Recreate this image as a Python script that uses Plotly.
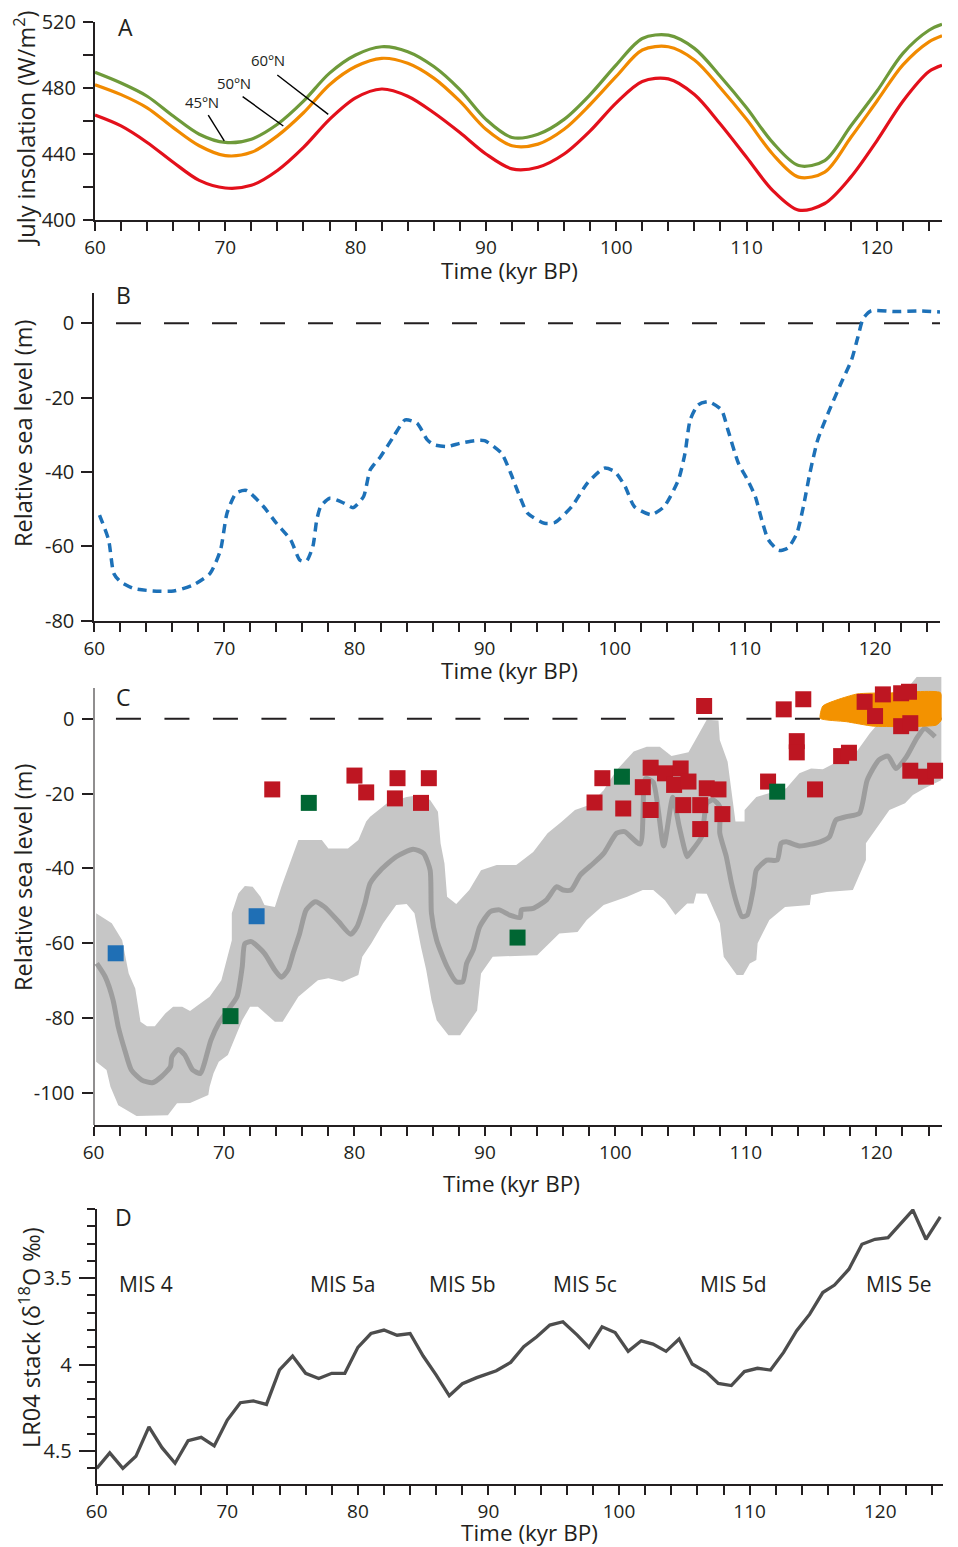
import plotly.graph_objects as go

W, H = 958, 1547
FONT = "Open Sans"
INK = "#231f20"

# ---------------- Panel A: July insolation ----------------
T_INS = [60, 62, 64, 66, 68, 70, 72, 74, 76, 78, 80, 82, 84, 86, 88, 90, 92, 94, 96, 98,
         100, 102, 104, 106, 108, 110, 112, 114, 116, 118, 120, 122, 124, 125]
INS_45N = [489.5, 483, 475, 463, 452, 447, 449, 458, 472, 489, 500, 505, 502, 493, 479, 461, 450, 452, 461, 476,
           494, 510, 512, 504, 487, 468, 447, 433, 436, 457, 478, 501, 515, 518.6]
INS_50N = [482, 476, 468, 456, 445, 439, 441, 451, 465, 482, 493, 498, 495, 486, 472, 455, 445, 446, 455, 470,
           487, 503, 505, 497, 480, 461, 440, 426, 429, 450, 472, 494, 508, 511.7]
INS_60N = [463.6, 457, 447, 435, 424, 419.4, 421, 430, 444, 461, 474, 479.4, 475, 465, 453, 440, 431, 432, 440, 454,
           471, 484, 485.5, 476, 458, 438, 418, 406, 410, 426, 448, 472, 490, 493.8]
INS_LABELS = ["45ºN", "50ºN", "60ºN"]

# ---------------- Panel B: relative sea level (model) ----------------
T_RSL_B = [60.4, 61.1, 61.5, 62.0, 63.0, 64.5, 66.1, 67.6, 68.9, 69.7, 70.2, 70.9, 71.7, 73.0, 74.0, 75.1, 75.8,
           76.3, 76.8, 77.1, 77.4, 78.1, 79.2, 79.9, 80.7, 81.2, 82.0, 83.0, 83.9, 84.8, 85.6, 86.1, 87.1, 88.1,
           89.2, 90.0, 91.3, 92.0, 92.7, 93.3, 94.6, 95.4, 96.7, 97.9, 99.2, 100.0, 100.8, 101.5, 102.8, 103.8,
           104.9, 105.4, 105.8, 106.4, 107.2, 108.2, 108.7, 109.5, 110.2, 110.8, 111.3, 111.8, 112.6, 113.3,
           114.0, 114.5, 115.0, 115.6, 116.4, 117.4, 118.2, 118.7, 119.1, 119.7, 121.5, 123.5, 125.0]
RSL_B = [-51.6, -58.3, -67.3, -69.5, -71.3, -72.0, -72.0, -70.4, -67.3, -61.0, -51.1, -45.7, -45.0, -49.3, -53.8,
         -58.3, -63.7, -64.0, -60.0, -52.9, -49.3, -47.1, -48.4, -49.6, -46.6, -39.5, -35.9, -30.5, -26.0, -26.9,
         -31.4, -32.7, -33.2, -32.3, -31.6, -31.6, -35.0, -40.3, -46.6, -51.1, -53.8, -53.6, -49.3, -43.0, -39.0,
         -39.9, -43.9, -49.3, -51.5, -49.3, -42.1, -35.0, -26.0, -22.0, -21.1, -23.3, -28.7, -37.6, -42.1, -46.6,
         -52.9, -58.2, -61.1, -60.5, -56.5, -49.3, -40.3, -31.4, -24.2, -16.1, -9.9, -3.6, 1.3, 3.3, 3.1, 3.3, 3.0]

# ---------------- Panel C: sea-level reconstruction ----------------
T_RSL_C = [60.25, 60.9, 61.5, 61.9, 62.4, 62.9, 63.7, 64.5, 65.2, 65.9, 66.0, 66.5, 67.0, 67.6, 68.2, 68.5, 69.0,
           69.6, 70.3, 71.0, 71.4, 71.6, 72.1, 73.1, 73.9, 74.4, 74.9, 75.3, 75.8, 76.3, 77.0, 77.7, 78.8, 79.7,
           80.2, 80.8, 81.2, 82.0, 83.2, 84.5, 85.3, 85.8, 85.9, 86.3, 87.1, 87.8, 88.3, 88.6, 89.1, 89.6, 90.4,
           91.1, 91.9, 92.7, 92.8, 93.7, 94.7, 95.5, 96.0, 96.6, 97.3, 98.3, 99.1, 100.1, 100.7, 101.9, 102.3,
           102.9, 103.7, 104.4, 104.9, 105.5, 105.7, 106.6, 107.0, 107.5, 108.0, 108.0, 108.5, 108.9, 109.3,
           109.7, 110.1, 110.6, 110.8, 111.6, 112.4, 112.7, 113.1, 114.1, 115.7, 116.4, 116.9, 117.7, 118.7,
           119.3, 120.2, 120.9, 121.5, 122.3, 123.1, 123.7, 124.5]
RSL_C = [-65.4, -69, -75.2, -82.4, -88.6, -93.9, -96.6, -97.3, -95.7, -93, -90.4, -88.4, -89.9, -93.9, -94.8,
         -92.1, -85.9, -81.4, -77.9, -74.3, -66.3, -60.1, -59.6, -62.7, -67.2, -69.1, -67.2, -62.7, -57.4, -51.1,
         -48.9, -50.3, -54.3, -57.6, -55.6, -49.4, -44, -40.5, -36.9, -34.9, -36, -40.5, -52, -59.2, -66.3, -70.3,
         -70.3, -65.4, -61.8, -55.6, -51.6, -51.1, -52.5, -53.1, -51.1, -50.7, -48.5, -44.9, -45.8, -45.8, -41.8,
         -38.7, -36, -30.6, -30.2, -33.5, -16, -17, -34, -21, -29, -36.9, -36, -31.6, -22.6, -21.7, -23.5, -30.6,
         -36.9, -44, -49.4, -52.9, -52.5, -44.9, -40.5, -37.8, -37.8, -33.3, -32.9, -34, -32.9, -31.6, -27.1,
         -26.2, -25.3, -16.4, -11, -10, -13.3, -10.2, -5.2, -2.6, -4.8]

# uncertainty envelope: upper edge (left -> right), lower edge (right -> left)
T_ENV_UP = [60.2, 61.4, 62.2, 62.7, 63.2, 63.6, 64.1, 64.7, 65.5, 66.1, 66.8, 67.4, 68.0, 68.9, 69.8, 70.6, 70.6,
            71.1, 71.6, 72.2, 72.8, 73.1, 73.9, 74.4, 75.7, 77.5, 78.0, 79.5, 80.3, 80.9, 81.2, 82.5, 84.0, 85.0,
            85.8, 86.4, 86.6, 86.9, 87.1, 87.8, 88.8, 89.7, 90.9, 92.4, 93.7, 94.8, 95.9, 96.9, 98.0, 99.1, 100.1,
            101.4, 102.4, 103.4, 104.3, 105.6, 106.4, 107.0, 107.9, 108.0, 108.6, 109.2, 109.9, 109.9, 110.8,
            113.1, 114.1, 115.0, 115.9, 118.5, 119.5, 120.8, 123.1, 125.0]
ENV_UP = [-52, -54.7, -59.2, -68.1, -72.1, -81, -82.2, -82.2, -78.8, -77, -77, -78.1, -76.6, -74.3, -69.9, -59.2,
          -52, -46.7, -44.7, -44.9, -47.6, -49.8, -50.3, -44.9, -32.4, -32.4, -34.7, -34.7, -32.4, -27.5, -26.2,
          -22.6, -20.9, -20.4, -21.7, -24.9, -33.3, -38.7, -47.6, -49.5, -45.8, -40.5, -39.1, -39.1, -35.6, -30.6,
          -27.5, -24.4, -23.1, -19.1, -13.7, -8.8, -7.5, -7.5, -10, -9, -4, -0.3, -0.5, -5.7, -11.5, -27.5, -27.5,
          -24.4, -20.9, -18.6, -14.6, -13.3, -13.5, -8.8, -3.9, 1.4, 11.2, 11.2]
T_ENV_LO = [125.0, 123.7, 122.8, 122.2, 121.0, 120.2, 119.2, 119.2, 118.2, 116.2, 115.0, 114.9, 113.0, 111.8,
            110.9, 110.8, 110.3, 109.8, 109.3, 108.3, 108.0, 107.0, 106.2, 106.0, 105.5, 104.6, 103.8, 102.9,
            102.1, 100.9, 99.1, 97.8, 97.1, 95.7, 94.0, 90.6, 89.7, 89.4, 88.1, 87.2, 86.3, 85.9, 85.5, 85.1,
            84.6, 84.0, 83.2, 82.2, 81.3, 80.6, 80.3, 79.1, 78.0, 77.2, 75.7, 74.5, 73.9, 72.6, 72.0, 71.4, 70.3,
            69.6, 69.2, 68.9, 68.8, 67.4, 66.4, 65.7, 63.3, 61.9, 61.3, 61.0, 60.2]
ENV_LO = [-16.4, -18.6, -20.4, -22.6, -24.4, -28.4, -33.3, -37.8, -45.8, -46.3, -47.1, -49.8, -50.3, -53.8, -60,
          -64.5, -65.4, -68.5, -68.5, -63.6, -54.7, -46.8, -46.7, -49.4, -49.4, -52.5, -48.5, -45.8, -45.8, -47.6,
          -49.8, -53.8, -57, -57.4, -63.2, -63.6, -68.1, -78, -84.6, -84.6, -80.6, -75.2, -67.2, -61, -52, -49.5,
          -49.8, -54.7, -60, -63.6, -68.5, -70.3, -69.4, -69.9, -74.3, -81, -81, -77, -77, -80.6, -89.9, -91.7,
          -94.8, -98.4, -100.6, -102.7, -102.8, -106, -106.2, -103.3, -98.4, -93.9, -91.7]

# orange field (last interglacial highstand)
T_HIGH = [115.7, 115.9, 118.5, 121.0, 124.9, 125.1, 125.0, 124.6, 119.8, 117.7, 115.7]
RSL_HIGH = [0.1, 3.4, 6.6, 6.9, 7.0, 4.1, -0.3, -1.7, -2.0, -0.8, 0.1]

# data points
T_RED = [73.7, 80.0, 80.9, 83.1, 83.3, 85.1, 85.7, 98.4, 99.0, 100.6, 102.1, 102.7, 102.7, 103.8, 104.5, 105.0,
         105.6, 105.2, 106.5, 106.5, 107.0, 107.9, 108.2, 106.8, 111.7, 112.9, 114.4, 113.9, 113.9, 115.3, 117.3,
         117.9, 119.1, 119.9, 120.5, 121.9, 122.5, 121.9, 122.6, 122.6, 123.8, 124.5]
RSL_RED = [-18.9, -15.2, -19.7, -21.3, -15.9, -22.5, -15.9, -22.4, -15.9, -24.0, -18.3, -13.1, -24.4, -14.6, -17.7,
           -13.3, -16.8, -23.1, -23.1, -29.5, -18.6, -18.9, -25.5, 3.4, -16.8, 2.5, 5.2, -6.0, -9.0, -18.9, -10.0,
           -9.1, 4.5, 0.7, 6.5, 6.8, 7.2, -2.0, -1.2, -13.9, -15.5, -13.9]
T_GREEN = [70.5, 76.5, 92.5, 100.5, 112.4]
RSL_GREEN = [-79.5, -22.5, -58.5, -15.5, -19.5]
T_BLUE = [61.7, 72.5]
RSL_BLUE = [-62.7, -52.8]

# ---------------- Panel D: LR04 benthic stack ----------------
T_LR04 = [60, 61, 62, 63, 64, 65, 66, 67, 68, 69, 70, 71, 72, 73, 74, 75, 76, 77, 78, 79, 80, 81, 82, 83, 84, 85,
          86, 87, 88, 89.1, 90.6, 91.7, 92.7, 93.7, 94.7, 95.7, 96.8, 97.7, 98.7, 99.7, 100.7, 101.7, 102.6, 103.6,
          104.6, 105.6, 106.7, 107.6, 108.6, 109.6, 110.6, 111.6, 112.6, 113.6, 114.6, 115.6, 116.5, 117.6, 118.6,
          119.6, 120.6, 121.5, 122.5, 123.5, 124.6]
D18O = [4.60, 4.51, 4.60, 4.53, 4.36, 4.48, 4.57, 4.44, 4.42, 4.47, 4.32, 4.22, 4.21, 4.23, 4.03, 3.95, 4.05, 4.08,
        4.05, 4.05, 3.90, 3.82, 3.80, 3.83, 3.82, 3.95, 4.06, 4.18, 4.11, 4.075, 4.035, 3.987, 3.896, 3.839, 3.771,
        3.752, 3.829, 3.90, 3.781, 3.814, 3.923, 3.862, 3.881, 3.923, 3.852, 3.996, 4.044, 4.108, 4.121, 4.04,
        4.021, 4.031, 3.929, 3.804, 3.708, 3.583, 3.54, 3.448, 3.304, 3.275, 3.266, 3.189, 3.106, 3.275, 3.145]
MIS_LABELS = ["MIS 4", "MIS 5a", "MIS 5b", "MIS 5c", "MIS 5d", "MIS 5e"]
T_MIS = [63.8, 78.8, 88.0, 97.4, 108.8, 121.4]

# ---------------- ticks ----------------
X_TICKS = [60, 70, 80, 90, 100, 110, 120]
X_TICK_TEXT = ["60", "70", "80", "90", "100", "110", "120"]
X_MINOR = [62, 64, 66, 68, 72, 74, 76, 78, 82, 84, 86, 88, 92, 94, 96, 98, 102, 104, 106, 108, 112, 114, 116, 118,
           122, 124]
YA_TICKS = [400, 440, 480, 520]
YA_MINOR = [420, 460, 500]
YB_TICKS = [0, -20, -40, -60, -80]
YB_TEXT = ["0", "-20", "-40", "-60", "-80"]
YC_TICKS = [0, -20, -40, -60, -80, -100]
YC_TEXT = ["0", "-20", "-40", "-60", "-80", "-100"]
YD_TICKS = [3.5, 4.0, 4.5]
YD_TEXT = ["3.5", "4", "4.5"]
YD_MINOR = [3.1, 3.2, 3.3, 3.4, 3.6, 3.7, 3.8, 3.9, 4.1, 4.2, 4.3, 4.4, 4.6]

X_TITLE = "Time (kyr BP)"
Y_TITLES = ["July insolation (W/m<sup>2</sup>)", "Relative sea level (m)", "Relative sea level (m)",
            "LR04 stack (δ<sup>18</sup>O ‰)"]
PANEL_LETTERS = ["A", "B", "C", "D"]

# ---------------- figure ----------------
fig = go.Figure()

# A
for ys, col in [(INS_60N, "#e3101b"), (INS_50N, "#f18a00"), (INS_45N, "#6e9a3a")]:
    fig.add_trace(go.Scatter(x=T_INS, y=ys, mode="lines", line=dict(color=col, width=3.2, shape="spline",
                                                                     smoothing=0.9),
                             xaxis="x", yaxis="y", hoverinfo="skip"))

# B
fig.add_trace(go.Scatter(x=[61.67, 125], y=[0, 0], mode="lines",
                         line=dict(color=INK, width=2, dash="25px,23px"), xaxis="x2", yaxis="y2"))
fig.add_trace(go.Scatter(x=T_RSL_B, y=RSL_B, mode="lines",
                         line=dict(color="#1d71b8", width=3.5, dash="9px,6px", shape="spline", smoothing=0.6),
                         xaxis="x2", yaxis="y2"))

# C
fig.add_trace(go.Scatter(x=T_ENV_UP + T_ENV_LO, y=ENV_UP + ENV_LO, mode="lines", fill="toself",
                         fillcolor="#c6c6c6", line=dict(width=0, color="#c6c6c6"), xaxis="x3", yaxis="y3"))
fig.add_trace(go.Scatter(x=T_RSL_C, y=RSL_C, mode="lines",
                         line=dict(color="#9d9d9d", width=5, shape="spline", smoothing=0.6),
                         xaxis="x3", yaxis="y3"))
fig.add_trace(go.Scatter(x=[61.72, 125], y=[0, 0], mode="lines",
                         line=dict(color=INK, width=2, dash="25px,23.5px"), xaxis="x3", yaxis="y3"))
fig.add_trace(go.Scatter(x=T_HIGH, y=RSL_HIGH, mode="lines", fill="toself", fillcolor="#f39200",
                         line=dict(width=1, color="#f39200", shape="spline", smoothing=0.5),
                         xaxis="x3", yaxis="y3"))
for xs, ys, col in [(T_RED, RSL_RED, "#be1622"), (T_GREEN, RSL_GREEN, "#006633"), (T_BLUE, RSL_BLUE, "#1f6fb5")]:
    fig.add_trace(go.Scatter(x=xs, y=ys, mode="markers", cliponaxis=False,
                             marker=dict(symbol="square", size=16, color=col, line=dict(width=0)),
                             xaxis="x3", yaxis="y3"))

# D
fig.add_trace(go.Scatter(x=T_LR04, y=D18O, mode="lines", line=dict(color="#4d4d4d", width=3.3),
                         xaxis="x4", yaxis="y4"))


def px_dom(a, b, total):
    return [a / total, b / total]


def ydom(top, bottom):
    return [1 - bottom / H, 1 - top / H]


tickfont = dict(family=FONT, size=20, color=INK)
xtickfont = dict(family=FONT, size=19, color=INK)


def xaxis(d0, d1, rng, anchor):
    return dict(domain=px_dom(d0, d1, W), range=rng, anchor=anchor, showline=True, linecolor=INK, linewidth=2,
                ticks="outside", ticklen=9, tickwidth=1.6, tickcolor=INK, tickvals=X_TICKS,
                ticktext=X_TICK_TEXT, tickfont=xtickfont, showgrid=False, zeroline=False, fixedrange=True,
                minor=dict(tickvals=X_MINOR, ticks="outside", ticklen=9, tickwidth=1.6, tickcolor=INK,
                           showgrid=False))


def yaxis(top, bottom, rng, anchor, tv, tt, minor=None, ticklen=10, showline=True):
    d = dict(domain=ydom(top, bottom), range=rng, anchor=anchor, showline=showline, linecolor=INK, linewidth=2,
             ticks="outside", ticklen=ticklen, tickwidth=1.6, tickcolor=INK, tickvals=tv, ticktext=tt,
             tickfont=tickfont, showgrid=False, zeroline=False, fixedrange=True, ticklabelstandoff=3)
    if minor is not None:
        d["minor"] = minor
    return d


layout = dict(
    width=W, height=H, margin=dict(l=0, r=0, t=0, b=0), paper_bgcolor="white",
    plot_bgcolor="rgba(0,0,0,0)", showlegend=False, template="none",
    xaxis=xaxis(95, 942, [60, 125], "y"),
    yaxis=yaxis(22, 220, [400, 520], "x", YA_TICKS, [str(v) for v in YA_TICKS],
                minor=dict(tickvals=YA_MINOR, ticks="outside", ticklen=10, tickwidth=1.6, tickcolor=INK,
                           showgrid=False)),
    xaxis2=xaxis(94.3, 940, [60, 125], "y2"),
    yaxis2=yaxis(293, 620.7, [-80, 8.1], "x2", YB_TICKS, YB_TEXT, ticklen=11),
    xaxis3=xaxis(93.5, 941.6, [60, 125], "y3"),
    yaxis3=yaxis(676.8, 1125, [-108.6, 11.2], "x3", YC_TICKS, YC_TEXT, ticklen=11, showline=False),
    xaxis4=xaxis(96.7, 943.3, [60, 124.83], "y4"),
    yaxis4=yaxis(1209, 1484, [4.69, 3.1], "x4", YD_TICKS, YD_TEXT, ticklen=16,
                 minor=dict(tickvals=YD_MINOR, ticks="outside", ticklen=8, tickwidth=1.6, tickcolor=INK,
                            showgrid=False)),
)
fig.update_layout(**layout)

# y-axis line of panel C (stops at the top tick region like the original)
fig.add_shape(type="line", xref="x3", yref="y3", x0=60, x1=60, y0=-108.6, y1=8.2,
              line=dict(color=INK, width=2))

# leader lines for latitude labels
leaders = [((68.69, 463.6), (69.92, 448.0)), ((71.33, 474.8), (74.45, 457.0)), ((73.99, 487.9), (77.9, 464.0))]
for (x0, y0), (x1, y1) in leaders:
    fig.add_shape(type="line", xref="x", yref="y", x0=x0, y0=y0, x1=x1, y1=y1,
                  line=dict(color="black", width=1.4))

ann = []


def paper_text(text, px, py, size, angle=0, xanchor="center"):
    ann.append(dict(text=text, x=px / W, y=1 - py / H, xref="paper", yref="paper", showarrow=False,
                    xanchor=xanchor, yanchor="middle", textangle=angle,
                    font=dict(family=FONT, size=size, color=INK)))


# latitude labels
for lab, (px, py) in zip(INS_LABELS, [(201.7, 101.7), (234, 82.7), (268.3, 60)]):
    paper_text(lab, px, py, 15)

# axis titles
for (px, py) in [(510, 270), (509, 670), (512, 1183), (529, 1532)]:
    paper_text(X_TITLE, px, py, 22.5)
for t, (px, py) in zip(Y_TITLES, [(24, 128), (23, 434), (23, 878), (29, 1338)]):
    paper_text(t, px, py, 23.5, angle=-90)

# panel letters
for lab, (px, py) in zip(PANEL_LETTERS, [(125, 27), (124, 295), (124, 697), (124, 1217)]):
    paper_text(lab, px, py, 23)

# MIS labels
for lab, t in zip(MIS_LABELS, T_MIS):
    ann.append(dict(text=lab, x=t, y=3.533, xref="x4", yref="y4", showarrow=False, xanchor="center",
                    yanchor="middle", font=dict(family=FONT, size=21, color=INK)))

fig.update_layout(annotations=ann)
fig.write_html("out.html", config={"displayModeBar": False},
               post_script="document.body.style.margin='0';document.body.style.overflow='hidden';")
